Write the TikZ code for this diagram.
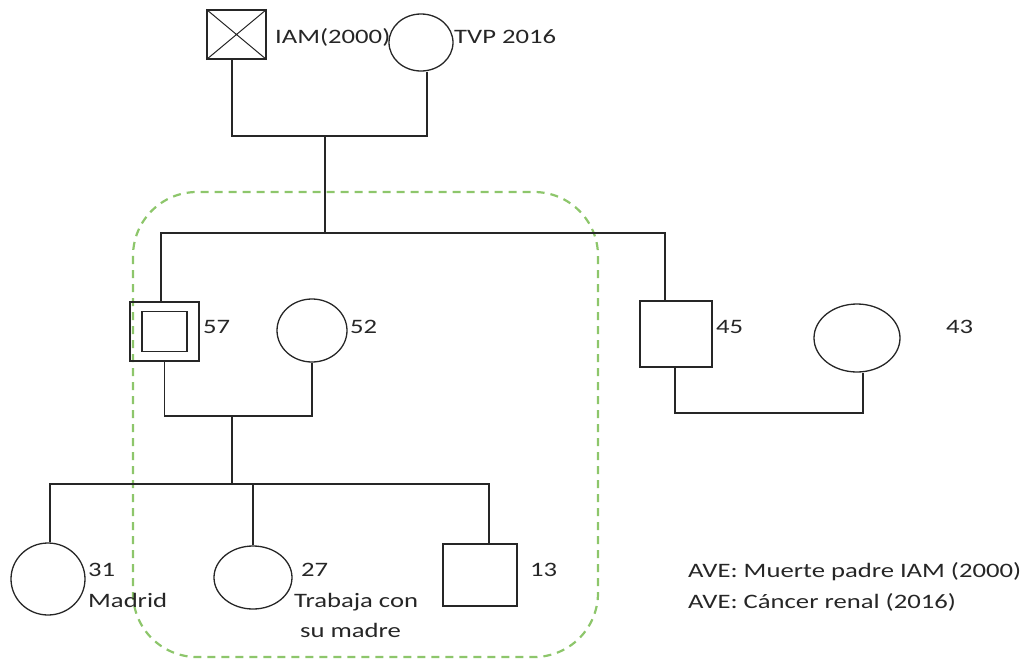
\documentclass[tikz,border=0pt]{standalone}
\usepackage{fontspec}
\setmainfont{Carlito}[FakeStretch=1.3]
\usetikzlibrary{shapes.geometric}
\definecolor{linegray}{HTML}{262626}
\definecolor{groupgreen}{HTML}{8DC66B}
\begin{document}
\begin{tikzpicture}[x=1pt,y=-1pt,
  line/.style={draw=linegray, line width=1.3pt},
  male/.style={rectangle, line, inner sep=0pt},
  female/.style={ellipse, line, inner sep=0pt},
  lbl/.style={anchor=base west, inner sep=0pt,
    font=\fontsize{20.5}{31}\selectfont, text=linegray},
  link/.style={line, line join=miter}
]
\useasboundingbox (0,0) rectangle (1026,659);

% household group
\draw[groupgreen, line width=2.2pt, dash pattern=on 8pt off 6pt,
  rounded corners=64pt] (133,192) rectangle (598,657);

% grandparents
\node[male, minimum width=59pt, minimum height=49pt] (gf) at (236.5,34.5) {};
\draw[draw=linegray, line width=1pt]
  (gf.north west) -- (gf.south east) (gf.north east) -- (gf.south west);
\node[female, minimum width=64pt, minimum height=57pt] (gm) at (421,42.5) {};
\node[lbl] (tgf) at (275,43) {IAM(2000)};
\node[lbl] (tgm) at (454,43) {TVP 2016};

% second generation
\node[male, minimum width=69pt, minimum height=59pt] (p57) at (164.5,331.5) {};
\node[male, minimum width=45pt, minimum height=40pt] (p57in) at (p57) {};
\node[lbl] (t57) at (203,333) {57};
\node[female, minimum width=70pt, minimum height=63pt] (w52) at (312,330.5) {};
\node[lbl] (t52) at (350,333) {52};
\node[male, minimum width=72pt, minimum height=66pt] (p45) at (676,334) {};
\node[lbl] (t45) at (716,333) {45};
\node[female, minimum width=86pt, minimum height=68pt] (w43) at (857,338) {};
\node[lbl] (t43) at (946,333) {43};

% third generation
\node[female, minimum width=74pt, minimum height=72pt] (c31) at (48,579) {};
\node[lbl] (t31) at (88,576) {31};
\node[lbl] (t31b) at (88,607) {Madrid};
\node[female, minimum width=78pt, minimum height=63pt] (c27) at (253,577.5) {};
\node[lbl] (t27) at (301,576) {27};
\node[lbl] (t27b) at (294,607) {Trabaja con};
\node[lbl] (t27c) at (300,637) {su madre};
\node[male, minimum width=74pt, minimum height=62pt] (c13) at (480,575) {};
\node[lbl] (t13) at (530,576) {13};

% legend
\node[lbl] (ave1) at (688,577) {AVE: Muerte padre IAM (2000)};
\node[lbl] (ave2) at (688,608) {AVE: Cáncer renal (2016)};

% junction points
\coordinate (u1) at (325,136);
\coordinate (s1) at (325,233);
\coordinate (u2) at (232,416);
\coordinate (s2) at (232,484);
\coordinate (u3) at (770,413);

% connectors
\draw[link] ([xshift=-4.5pt]gf.south) |- (u1) -| ([xshift=6pt]gm.south);
\draw[link] (u1) -- (s1);
\draw[link] ([xshift=-3.5pt]p57.north) |- (s1) -| ([xshift=-11pt]p45.north);
\draw[link] (p57.south) |- (u2) -| (w52.south);
\draw[link] (u2) -- (s2);
\draw[link] ([xshift=-1pt]p45.south) |- (u3) -| ([xshift=6pt]w43.south);
\draw[link] ([xshift=2pt]c31.north) |- (s2) -| ([xshift=9pt]c13.north);
\draw[link] (c27.north) -- (c27.north |- s2);
\end{tikzpicture}
\end{document}
